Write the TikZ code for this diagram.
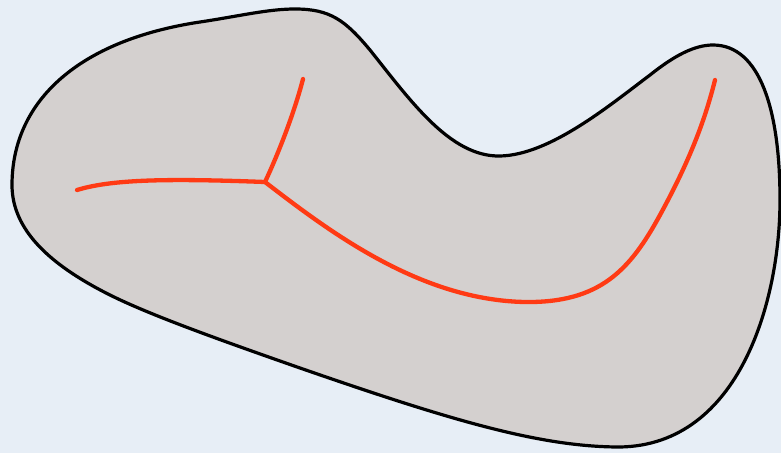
\documentclass[tikz,border=0pt]{standalone}
\definecolor{bgc}{HTML}{E7EEF6}
\definecolor{blobfill}{HTML}{D4D0CF}
\definecolor{redline}{HTML}{FF3A14}
\tikzset{
  blob/.style={draw=black, line width=3.2pt, fill=blobfill},
  curve/.style={draw=redline, line width=4.3pt, line cap=round, line join=round}
}
\begin{document}
\begin{tikzpicture}[x=1pt,y=-1pt]
\fill[bgc] (0,0) rectangle (781,453);
\useasboundingbox (0,0) rectangle (781,453);
\path[blob] (12,185) .. controls (12,100) and (80,40) .. (200,22)
  .. controls (240,16) and (268,9) .. (295,9)
  .. controls (330,9) and (345,20) .. (370,50)
  .. controls (410,100) and (450,157) .. (500,156)
  .. controls (550,155) and (610,105) .. (650,75)
  .. controls (675,55) and (695,45) .. (713,45)
  .. controls (760,45) and (780,110) .. (780,200)
  .. controls (780,300) and (740,445) .. (620,447)
  .. controls (540,447) and (450,420) .. (300,368)
  .. controls (220,340) and (150,315) .. (110,295)
  .. controls (50,265) and (12,230) .. (12,185) -- cycle;
\coordinate (j) at (265,182);
\coordinate (top) at (303,79);
\coordinate (left) at (77,190);
\coordinate (low) at (525,302);
\coordinate (mid) at (660,215);
\coordinate (right) at (715,80);
\draw[curve] (left) .. controls (110,180) and (160,178) .. (j);
\draw[curve] (j) .. controls (280,150) and (295,110) .. (top);
\draw[curve] (j) .. controls (330,232) and (420,300) .. (low)
  .. controls (600,303) and (630,270) .. (mid)
  .. controls (690,160) and (705,120) .. (right);
\end{tikzpicture}
\end{document}
